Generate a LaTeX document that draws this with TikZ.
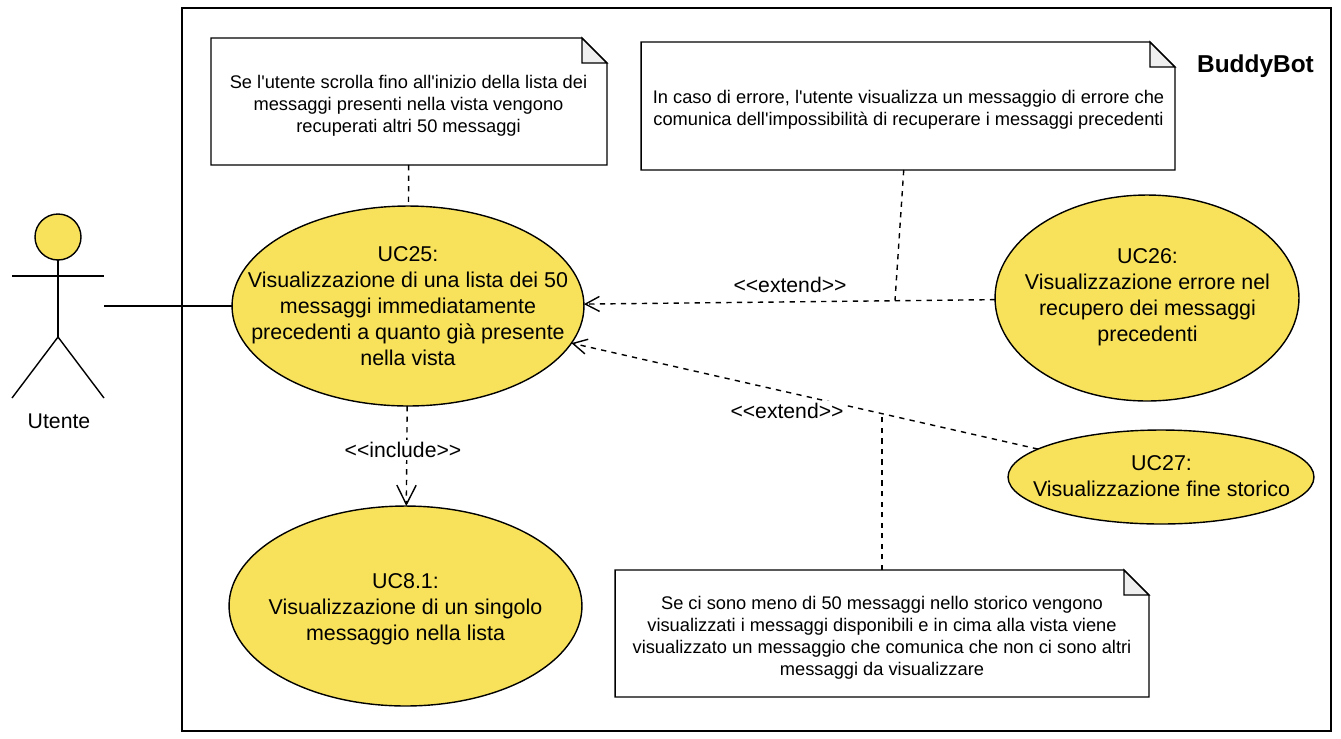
\documentclass[tikz,border=0pt]{standalone}
\usepackage{fontspec}
\setmainfont{Liberation Sans}
\usetikzlibrary{shapes.geometric,arrows.meta}

\definecolor{ucfill}{HTML}{F8E25C}
\definecolor{foldfill}{HTML}{EFEFEF}

\tikzset{
    usecase/.style={ellipse, draw, fill=ucfill, inner sep=0pt, outer sep=0pt},
    usecasetext/.style={inner sep=0pt, align=center, font=\fontsize{12.2}{14.7}\selectfont},
    notebox/.style={rectangle, inner sep=0pt, outer sep=0pt},
    notetext/.style={inner sep=0pt, align=center, font=\fontsize{10.4}{12.5}\selectfont},
    stereo/.style={font=\fontsize{12.05}{14}\selectfont, inner sep=1pt},
    dep/.style={dashed, dash pattern=on 3pt off 3pt},
    extendarrow/.style={dep, -{Straight Barb[length=8pt,width=8.5pt]}},
    includearrow/.style={dep, -{Straight Barb[length=11pt,width=11pt]}},
}

\newcommand{\notefold}[1]{
    \draw (#1.north west) -- ([xshift=-0.5cm]#1.north east) -- ([yshift=-0.5cm]#1.north east)
        -- (#1.south east) -- (#1.south west) -- cycle;
    \draw[fill=foldfill] ([xshift=-0.5cm]#1.north east) -- ([xshift=-0.5cm,yshift=-0.5cm]#1.north east)
        -- ([yshift=-0.5cm]#1.north east) -- cycle;
}

\begin{document}
\begin{tikzpicture}[x=0.02cm, y=-0.02cm, line width=0.8pt]
        \useasboundingbox (0,0) rectangle (1341,738);

        \node[rectangle, draw, outer sep=0pt, minimum width=22.98cm, minimum height=14.46cm] (system) at (756.5,369.5) {};
        \node[font=\fontsize{13.9}{16}\selectfont\bfseries] (title) at (1255.5,66) {BuddyBot};

        \node[circle, draw, fill=ucfill, inner sep=0pt, outer sep=0pt, minimum size=0.92cm] (head) at (58,237) {};
        \coordinate (hip) at (58,337);
        \coordinate (armleft) at (12,276);
        \coordinate (armright) at (104,276);
        \coordinate (footleft) at (12,398);
        \coordinate (footright) at (104,398);
        \coordinate (actorlink) at (104,306);
        \node[font=\fontsize{12.1}{14}\selectfont] (actorlabel) at (59,421) {Utente};

        \draw (head) -- (hip);
        \draw (armleft) -- (armright);
        \draw (footleft) -- (hip) -- (footright);

        \node[usecase, minimum width=7.04cm, minimum height=4cm] (uc25) at (408,306) {};
        \node[usecasetext] (uc25text) at (408,306)
            {UC25:\\Visualizzazione di una lista dei 50\\messaggi immediatamente\\precedenti a quanto già presente\\nella vista};
        \node[usecase, minimum width=6.08cm, minimum height=4.12cm] (uc26) at (1147,298) {};
        \node[usecasetext] (uc26text) at (1147.5,297)
            {UC26:\\Visualizzazione errore nel\\recupero dei messaggi\\precedenti};
        \node[usecase, minimum width=6.12cm, minimum height=1.88cm] (uc27) at (1161,477) {};
        \node[usecasetext] (uc27text) at (1161.5,476)
            {UC27:\\Visualizzazione fine storico};
        \node[usecase, minimum width=7.06cm, minimum height=4cm] (uc81) at (405.5,606) {};
        \node[usecasetext] (uc81text) at (405.5,609.5)
            {UC8.1:\\Visualizzazione di un singolo\\messaggio nella lista};

        \node[notebox, minimum width=7.92cm, minimum height=2.54cm] (note1) at (409,101.5) {};
        \node[notetext] (note1text) at (408.5,105.5)
            {Se l\textquotesingle utente scrolla fino all\textquotesingle inizio della lista dei\\messaggi presenti nella vista vengono\\recuperati altri 50 messaggi};
        \node[notebox, minimum width=10.68cm, minimum height=2.56cm] (note2) at (908,106) {};
        \node[notetext] (note2text) at (908.5,110)
            {In caso di errore, l\textquotesingle utente visualizza un messaggio di errore che\\comunica dell\textquotesingle impossibilità di recuperare i messaggi precedenti};
        \node[notebox, minimum width=10.68cm, minimum height=2.54cm] (note3) at (882,633.5) {};
        \node[notetext] (note3text) at (882,637.5)
            {Se ci sono meno di 50 messaggi nello storico vengono\\visualizzati i messaggi disponibili e in cima alla vista viene\\visualizzato un messaggio che comunica che non ci sono altri\\messaggi da visualizzare};
        \notefold{note1}
        \notefold{note2}
        \notefold{note3}

        \coordinate (joint26) at (895,300.5);
        \coordinate (joint27) at (882,415);

        \draw (actorlink) -- (uc25);
        \draw[dep] (note1) -- (uc25);
        \draw[dep] (note2) -- (joint26);
        \draw[dep] (note3) -- (joint27);
        \draw[extendarrow] (uc26) -- (uc25);
        \draw[extendarrow] (uc27) -- (uc25);
        \draw[includearrow] (uc25) -- (uc81);

        \node[stereo] (extend26) at (790,285) {<{}<extend>{}>};
        \node[stereo, fill=white] (extend27) at (787,411) {<{}<extend>{}>};
        \node[stereo, fill=white] (include81) at (403,450) {<{}<include>{}>};
\end{tikzpicture}
\end{document}
